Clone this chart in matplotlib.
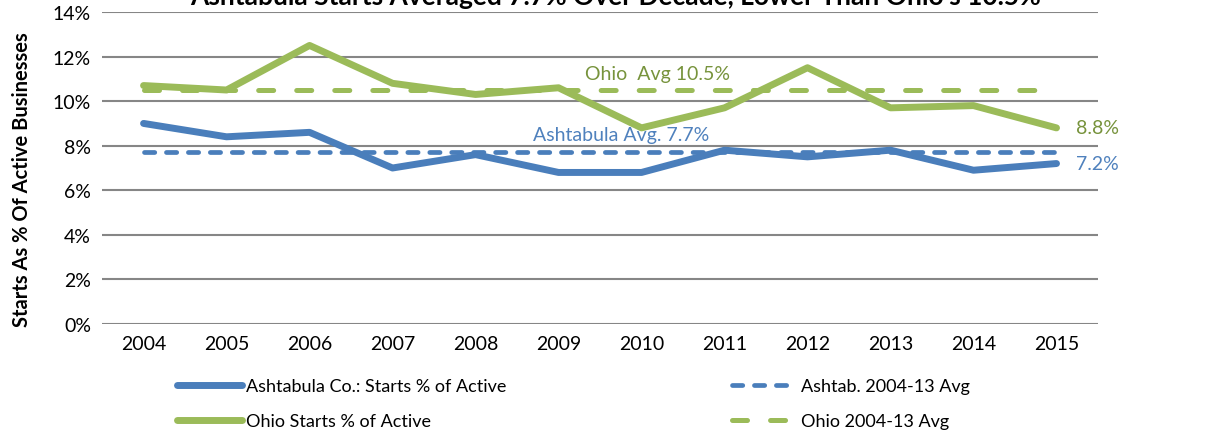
import numpy as np
import matplotlib
matplotlib.use("Agg")
import matplotlib.pyplot as plt

plt.rcParams['font.family'] = ['Lato', 'DejaVu Sans']
plt.rcParams['lines.scale_dashes'] = False

years = ['2004', '2005', '2006', '2007', '2008', '2009', '2010', '2011', '2012', '2013', '2014', '2015']
ashtabula = [9.0, 8.4, 8.6, 7.0, 7.6, 6.8, 6.8, 7.8, 7.5, 7.8, 6.9, 7.2]
ohio = [10.7, 10.5, 12.5, 10.8, 10.3, 10.6, 8.8, 9.7, 11.5, 9.7, 9.8, 8.8]
ashtab_avg = 7.7
ohio_avg = 10.5

blue = '#4A7EBB'
green = '#9BBB59'
blue_txt = '#4F81BD'
green_txt = '#77933C'

fig = plt.figure(figsize=(12.15, 4.35), dpi=100)
ax = fig.add_axes([0.084, 0.2529, 0.8197, 0.7172])

x = np.arange(len(years))

# gridlines
for v in range(0, 15, 2):
    ax.axhline(v, color='#868686', lw=1.5, zorder=0)

ax.plot(x, ashtabula, color=blue, lw=5, solid_capstyle='round', solid_joinstyle='round',
        label='Ashtabula Co.: Starts % of Active', zorder=3)
ax.plot(x, [ashtab_avg] * len(x), color=blue, lw=3.4, dashes=(7.4, 8.4),
        dash_capstyle='round', label='Ashtab. 2004-13 Avg', zorder=2)
ax.plot(x, ohio, color=green, lw=5, solid_capstyle='round', solid_joinstyle='round',
        label='Ohio Starts % of Active', zorder=3)
ax.plot(x, [ohio_avg] * len(x), color=green, lw=3.6, dashes=(10.8, 16.6),
        dash_capstyle='round', label='Ohio 2004-13 Avg', zorder=2)

ax.text(5.32, 11.25, 'Ohio  Avg 10.5%', color=green_txt, fontsize=14, va='center', ha='left')
ax.text(4.69, 8.5, 'Ashtabula Avg. 7.7%', color=blue_txt, fontsize=14, va='center', ha='left')
ax.text(11.23, 8.8, '8.8%', color=green_txt, fontsize=14, va='center', ha='left')
ax.text(11.23, 7.2, '7.2%', color=blue_txt, fontsize=14, va='center', ha='left')

ax.set_xlim(-0.5, 11.5)
ax.set_ylim(0, 14)
ax.set_yticks(range(0, 15, 2))
ax.set_yticklabels([f'{v}%' for v in range(0, 15, 2)], fontsize=14)
ax.set_xticks(x)
ax.set_xticklabels(years, fontsize=14)
ax.tick_params(length=0, pad=8)
for s in ax.spines.values():
    s.set_visible(False)

ax.set_ylabel('Starts As % Of Active Businesses', fontsize=14.5, fontweight='bold')
ax.yaxis.set_label_coords(-0.07, 0.465)

# title sits mostly above the top edge, as in the original export
fig.text(0.507, 0.988, "Ashtabula Starts Averaged 7.7% Over Decade, Lower Than Ohio's 10.5%",
         ha='center', va='baseline', fontsize=19, fontweight='bold')

handles, labels = ax.get_legend_handles_labels()
order = [0, 2, 1, 3]
leg = fig.legend([handles[i] for i in order], [labels[i] for i in order], ncol=2,
                 loc='upper left', bbox_to_anchor=(0.14, 0.145), frameon=False,
                 fontsize=13, handlelength=3.6, handletextpad=0.2, columnspacing=12.5,
                 labelspacing=1.05, borderaxespad=0)

fig.savefig('out.png', dpi=100)
